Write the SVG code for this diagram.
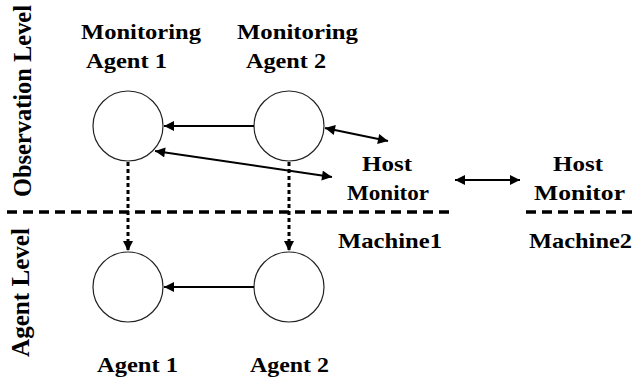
<svg xmlns="http://www.w3.org/2000/svg" width="632" height="381" viewBox="0 0 632 381">
<style>
  text { font-family: "Liberation Serif", "Times New Roman", serif; font-weight: bold; fill: #000; }
  .lbl { font-size: 21px; }
  .vlbl { font-size: 25px; }
  .node { fill: #fff; stroke: #222; stroke-width: 1.2; }
  .conn { stroke: #000; stroke-width: 2; fill: none; }
  .dot { stroke: #000; stroke-width: 3; stroke-dasharray: 4 3; fill: none; }
  .sep { stroke: #000; stroke-width: 3.5; stroke-dasharray: 10 6; fill: none; }
</style>
<defs>
  <marker id="ah" viewBox="0 0 10 10" refX="10" refY="5" markerWidth="12" markerHeight="10" markerUnits="userSpaceOnUse" orient="auto-start-reverse">
    <path d="M0,0 L10,5 L0,10 Z" fill="#000"/>
  </marker>
</defs>
<rect width="632" height="381" fill="#fff"/>

<g id="level-labels">
  <text class="vlbl" transform="translate(31,197) rotate(-90)" textLength="192" lengthAdjust="spacingAndGlyphs">Observation Level</text>
  <text class="vlbl" transform="translate(29,357) rotate(-90)" textLength="129" lengthAdjust="spacingAndGlyphs">Agent Level</text>
</g>

<g id="separators">
  <line class="sep" x1="7" y1="212" x2="455" y2="212"/>
  <line class="sep" x1="526" y1="212" x2="632" y2="212"/>
</g>

<g id="monitoring-agent-1">
  <circle class="node" cx="128" cy="126" r="35"/>
  <text class="lbl" x="81" y="39" textLength="120" lengthAdjust="spacingAndGlyphs">Monitoring</text>
  <text class="lbl" x="86" y="68" textLength="81" lengthAdjust="spacingAndGlyphs">Agent 1</text>
</g>
<g id="monitoring-agent-2">
  <circle class="node" cx="289" cy="126" r="35"/>
  <text class="lbl" x="237" y="39" textLength="121" lengthAdjust="spacingAndGlyphs">Monitoring</text>
  <text class="lbl" x="246" y="68" textLength="80" lengthAdjust="spacingAndGlyphs">Agent 2</text>
</g>
<g id="agent-1">
  <circle class="node" cx="128" cy="287" r="35"/>
  <text class="lbl" x="97" y="372" textLength="81" lengthAdjust="spacingAndGlyphs">Agent 1</text>
</g>
<g id="agent-2">
  <circle class="node" cx="289" cy="287" r="35"/>
  <text class="lbl" x="250" y="372" textLength="79" lengthAdjust="spacingAndGlyphs">Agent 2</text>
</g>
<g id="host-monitor-1">
  <text class="lbl" x="362" y="171" textLength="50" lengthAdjust="spacingAndGlyphs">Host</text>
  <text class="lbl" x="347" y="200" textLength="82" lengthAdjust="spacingAndGlyphs">Monitor</text>
  <text class="lbl" x="338" y="248" textLength="104" lengthAdjust="spacingAndGlyphs">Machine1</text>
</g>
<g id="host-monitor-2">
  <text class="lbl" x="553" y="171" textLength="50" lengthAdjust="spacingAndGlyphs">Host</text>
  <text class="lbl" x="534" y="200" textLength="91" lengthAdjust="spacingAndGlyphs">Monitor</text>
  <text class="lbl" x="529" y="248" textLength="103" lengthAdjust="spacingAndGlyphs">Machine2</text>
</g>

<g id="connectors">
  <line class="conn" x1="254" y1="126" x2="164" y2="126" marker-end="url(#ah)"/>
  <line class="conn" x1="254" y1="287" x2="164" y2="287" marker-end="url(#ah)"/>
  <line class="conn" x1="155" y1="151" x2="332" y2="177" marker-start="url(#ah)" marker-end="url(#ah)"/>
  <line class="conn" x1="325" y1="128" x2="388" y2="141" marker-start="url(#ah)" marker-end="url(#ah)"/>
  <line class="conn" x1="455" y1="180" x2="520" y2="180" stroke-width="3" marker-start="url(#ah)" marker-end="url(#ah)"/>
  <line class="dot" x1="128" y1="162" x2="128" y2="251" marker-end="url(#ah)"/>
  <line class="dot" x1="289" y1="162" x2="289" y2="251" marker-end="url(#ah)"/>
</g>
</svg>
